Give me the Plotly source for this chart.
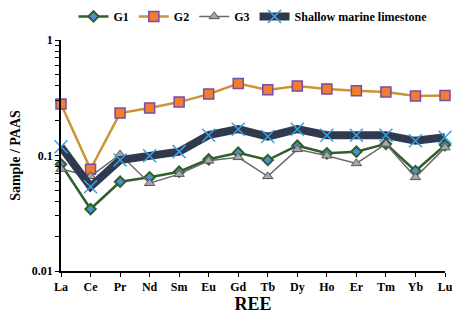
import plotly.graph_objects as go

categories = ["La", "Ce", "Pr", "Nd", "Sm", "Eu", "Gd", "Tb", "Dy", "Ho", "Er", "Tm", "Yb", "Lu"]
g1 = [0.084, 0.0344, 0.0593, 0.0647, 0.0724, 0.0927, 0.1057, 0.0914, 0.1216, 0.1045, 0.108, 0.126, 0.0734, 0.123]
g2 = [0.279, 0.076, 0.233, 0.258, 0.29, 0.34, 0.42, 0.37, 0.40, 0.377, 0.363, 0.355, 0.327, 0.33]
g3 = [0.0764, 0.066, 0.102, 0.0575, 0.069, 0.090, 0.0964, 0.066, 0.113, 0.0996, 0.0855, 0.126, 0.0647, 0.117]
shallow = [0.119, 0.0537, 0.0914, 0.0996, 0.108, 0.150, 0.169, 0.146, 0.169, 0.150, 0.150, 0.150, 0.134, 0.144]

xpos = list(range(len(categories)))
font_family = "Liberation Serif, Times New Roman, serif"

fig = go.Figure()
fig.add_trace(go.Scatter(
    x=xpos, y=g1, name="G1", mode="lines+markers", cliponaxis=False,
    line=dict(color="#2f5f2a", width=2.5),
    marker=dict(symbol="diamond", size=8, color="#4d8fd0", line=dict(color="#2f5f2a", width=2))))
fig.add_trace(go.Scatter(
    x=xpos, y=g2, name="G2", mode="lines+markers", cliponaxis=False,
    line=dict(color="#cc9436", width=2.5),
    marker=dict(symbol="square", size=10, color="#f07e2c", line=dict(color="#7a4aa8", width=1.5))))
fig.add_trace(go.Scatter(
    x=xpos, y=g3, name="G3", mode="lines+markers", cliponaxis=False,
    line=dict(color="#6a6a6a", width=1.5),
    marker=dict(symbol="triangle-up", size=9, color="#a8a8a8", line=dict(color="#555555", width=1))))
fig.add_trace(go.Scatter(
    x=xpos, y=shallow, name="Shallow marine limestone", mode="lines+markers", cliponaxis=False,
    line=dict(color="#2f3a4f", width=8),
    marker=dict(symbol="x-thin", size=13, color="#3aa0e4", line=dict(color="#3aa0e4", width=1.5))))

yticks = []
ytext = []
for dec in [0.01, 0.1]:
    for m in range(1, 10):
        yticks.append(dec * m)
        ytext.append(("%g" % dec) if m == 1 else "")
yticks.append(1)
ytext.append("1")

fig.update_layout(
    width=453, height=307,
    margin=dict(l=53, r=16, t=32, b=44, autoexpand=False),
    paper_bgcolor="white", plot_bgcolor="white",
    font=dict(family=font_family, color="black", size=12),
    showlegend=True,
    legend=dict(orientation="h", x=0.5, xanchor="center", y=1.165, yanchor="top",
                yref="paper", itemwidth=30, tracegroupgap=0,
                font=dict(size=12, family=font_family, weight="bold")),
    xaxis=dict(
        range=[0, 13], tickvals=xpos, ticktext=categories,
        showline=True, linecolor="black", linewidth=1.5,
        ticks="outside", ticklen=4, tickcolor="black",
        showgrid=False, zeroline=False,
        tickfont=dict(size=12, family=font_family, weight="bold"),
        title=dict(text="REE", font=dict(size=18, family=font_family, weight="bold"), standoff=3)),
    yaxis=dict(
        type="log", range=[-2, 0], tickvals=yticks, ticktext=ytext,
        showline=True, linecolor="black", linewidth=1.5,
        ticks="outside", ticklen=4, tickcolor="black",
        showgrid=False, zeroline=False,
        tickfont=dict(size=12, family=font_family, weight="bold"),
        title=dict(text="Sample / PAAS", font=dict(size=14, family=font_family, weight="bold"), standoff=12)),
)

fig.write_html("out.html")
